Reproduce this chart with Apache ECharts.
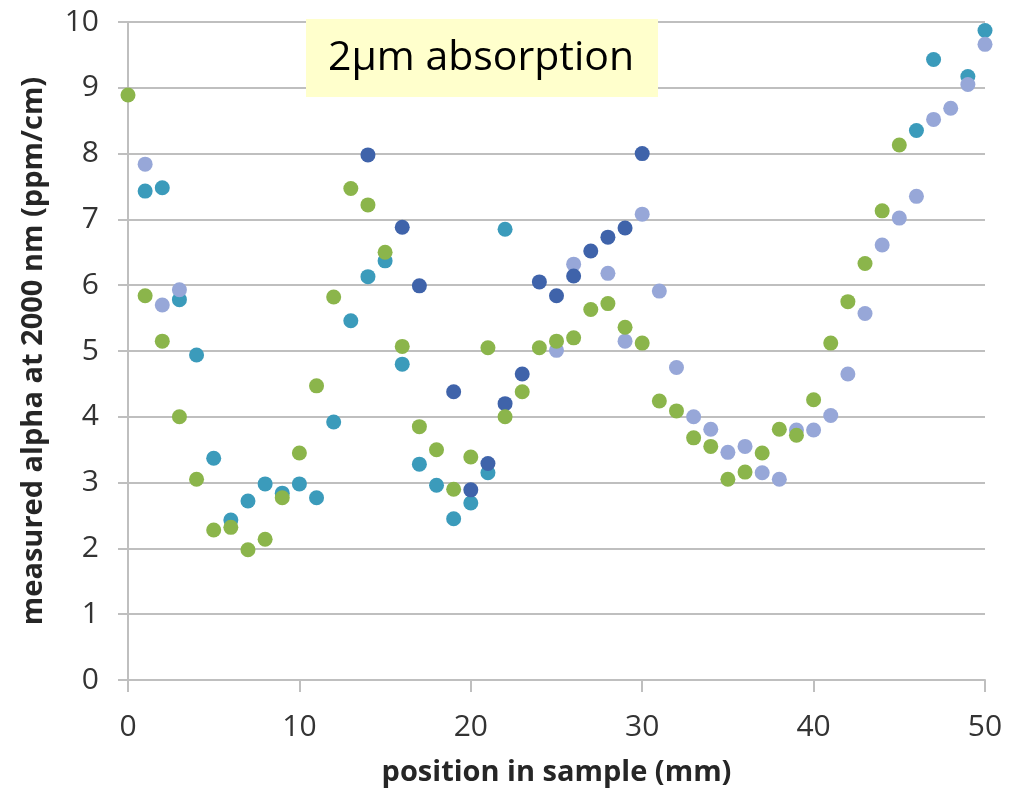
<!DOCTYPE html>
<html>
<head>
<meta charset="utf-8">
<script src="https://cdn.jsdelivr.net/npm/echarts@6/dist/echarts.min.js"></script>
<style>html,body{margin:0;padding:0;background:#fff}#c{width:1015px;height:793px}</style>
</head>
<body>
<div id="c"></div>
<script>
// Data: [position (mm), alpha (ppm/cm)]
const xTicks = [0, 10, 20, 30, 40, 50];
const yTicks = [0, 1, 2, 3, 4, 5, 6, 7, 8, 9, 10];

const tealX = [1, 2, 3, 4, 5, 6, 7, 8, 9, 10, 11, 12, 13, 14, 15, 16, 17, 18, 19, 20, 21, 22, 46, 47, 49, 50];
const tealY = [7.43, 7.48, 5.78, 4.94, 3.37, 2.43, 2.72, 2.98, 2.84, 2.98, 2.77, 3.92, 5.46, 6.13, 6.37, 4.8, 3.28, 2.96, 2.45, 2.69, 3.15, 6.85, 8.35, 9.43, 9.17, 9.87];

const lightX = [1, 2, 3, 25, 26, 28, 29, 30, 31, 32, 33, 34, 35, 36, 37, 38, 39, 40, 41, 42, 43, 44, 45, 46, 47, 48, 49, 50];
const lightY = [7.84, 5.7, 5.93, 5.01, 6.32, 6.18, 5.15, 7.08, 5.91, 4.75, 4.0, 3.81, 3.46, 3.55, 3.15, 3.05, 3.8, 3.8, 4.02, 4.65, 5.57, 6.61, 7.02, 7.35, 8.52, 8.69, 9.05, 9.66];

const darkX = [14, 16, 17, 19, 20, 21, 22, 23, 24, 25, 26, 27, 28, 29, 30];
const darkY = [7.98, 6.88, 5.99, 4.38, 2.89, 3.29, 4.2, 4.65, 6.05, 5.84, 6.14, 6.52, 6.73, 6.87, 8.0];

const greenX = [0, 1, 2, 3, 4, 5, 6, 7, 8, 9, 10, 11, 12, 13, 14, 15, 16, 17, 18, 19, 20, 21, 22, 23, 24, 25, 26, 27, 28, 29, 30, 31, 32, 33, 34, 35, 36, 37, 38, 39, 40, 41, 42, 43, 44, 45];
const greenY = [8.89, 5.84, 5.15, 4.0, 3.05, 2.28, 2.32, 1.98, 2.14, 2.77, 3.45, 4.47, 5.82, 7.47, 7.22, 6.5, 5.07, 3.85, 3.5, 2.9, 3.39, 5.05, 4.0, 4.38, 5.05, 5.15, 5.2, 5.63, 5.72, 5.36, 5.12, 4.24, 4.09, 3.68, 3.55, 3.05, 3.16, 3.45, 3.81, 3.72, 4.26, 5.12, 5.75, 6.33, 7.13, 8.13];

const zip = (xs, ys) => xs.map((x, i) => [x, ys[i]]);
const FONT = '"Open Sans", "Liberation Sans", sans-serif';
const GRID = '#bfbfbf';

const chart = echarts.init(document.getElementById('c'), null, {renderer: 'canvas'});
const mk = (name, xs, ys, color) => ({
  name, type: 'scatter', data: zip(xs, ys), symbolSize: 15,
  itemStyle: {color: color, opacity: 1}
});

chart.setOption({
  animation: false,
  backgroundColor: '#ffffff',
  grid: {left: 128, right: 30, top: 22, bottom: 113, containLabel: false},
  xAxis: {
    type: 'value', min: 0, max: 50, interval: 10,
    name: 'position in sample (mm)', nameLocation: 'middle', nameGap: 78,
    nameTextStyle: {fontFamily: FONT, fontWeight: 'bold', fontSize: 29, color: '#262626'},
    axisLine: {show: true, lineStyle: {color: GRID, width: 2}},
    axisTick: {show: true, length: 12, inside: false, lineStyle: {color: GRID, width: 2}},
    splitLine: {show: false},
    axisLabel: {fontFamily: FONT, fontSize: 30, color: '#333', margin: 32,
      formatter: v => xTicks.includes(v) ? String(v) : ''}
  },
  yAxis: {
    type: 'value', min: 0, max: 10, interval: 1,
    name: 'measured alpha at 2000 nm (ppm/cm)', nameLocation: 'middle', nameGap: 80, nameRotate: 90,
    nameTextStyle: {fontFamily: FONT, fontWeight: 'bold', fontSize: 29, color: '#262626'},
    axisLine: {show: true, lineStyle: {color: GRID, width: 2}},
    axisTick: {show: true, length: 10, inside: false, lineStyle: {color: GRID, width: 2}},
    splitLine: {show: true, lineStyle: {color: GRID, width: 2}},
    axisLabel: {fontFamily: FONT, fontSize: 30, color: '#333', margin: 29,
      formatter: v => yTicks.includes(v) ? String(v) : ''}
  },
  series: [
    mk('teal', tealX, tealY, '#3b9bbb'),
    mk('light', lightX, lightY, '#97a7d8'),
    mk('dark', darkX, darkY, '#3f63aa'),
    mk('green', greenX, greenY, '#8bb54b')
  ],
  graphic: [
    {type: 'rect', left: 306, top: 19, shape: {width: 352, height: 78}, style: {fill: '#ffffcc'}, z: 10},
    {type: 'text', left: 328, top: 38, style: {text: '2\u03bcm absorption', font: '41px "Open Sans", sans-serif', fill: '#000'}, z: 11}
  ]
});
</script>
</body>
</html>
